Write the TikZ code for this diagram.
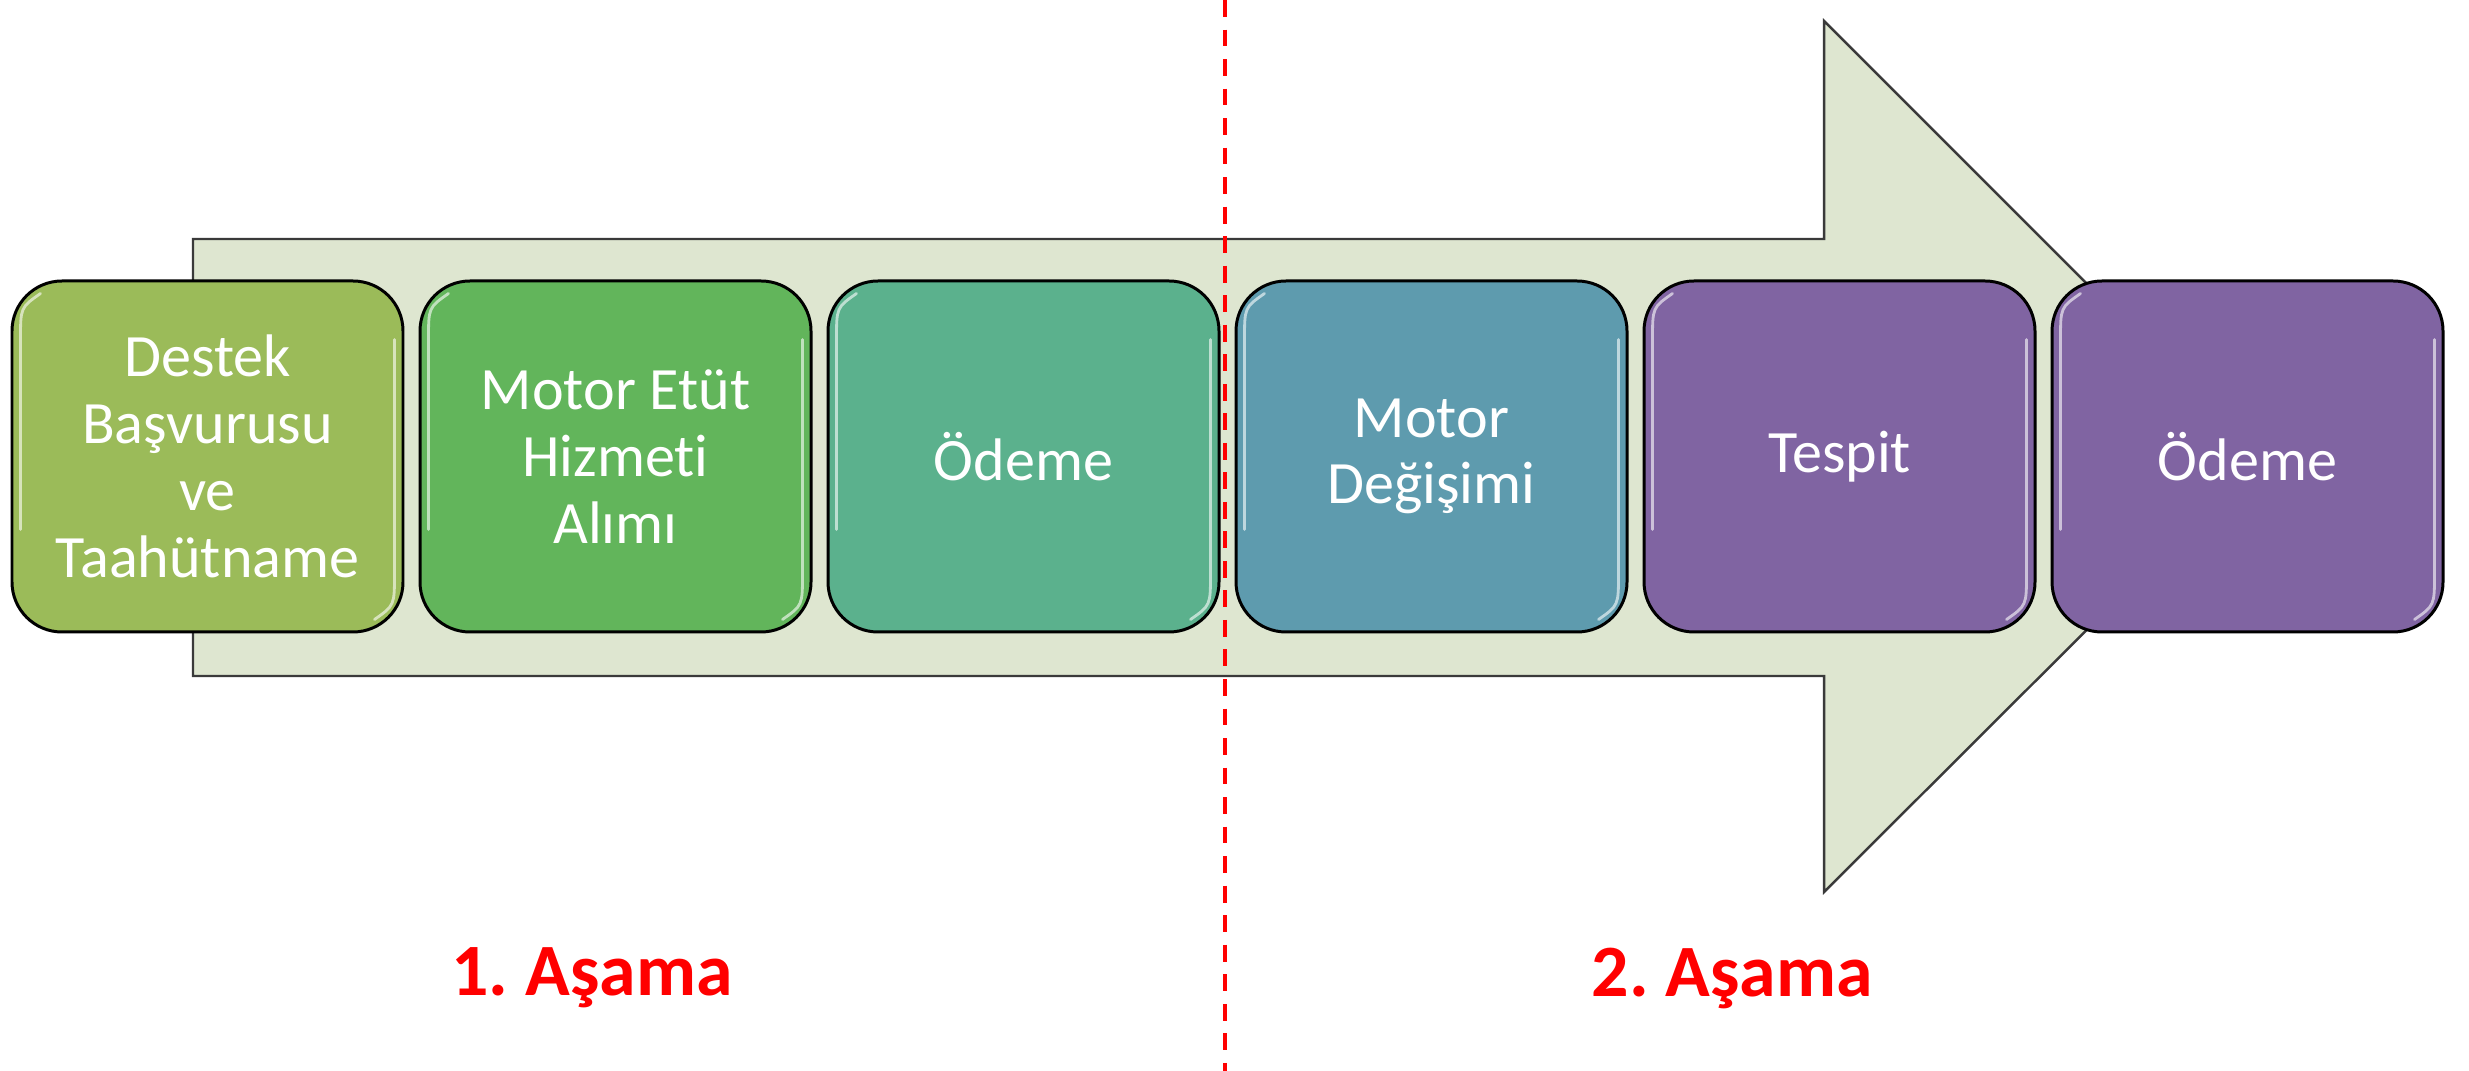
\documentclass[tikz,border=0pt]{standalone}
\usepackage{fontspec}
\setmainfont{Carlito}[Ligatures=NoCommon]
\frenchspacing
\definecolor{arrowfill}{HTML}{DEE6D0}
\definecolor{arrowline}{HTML}{3A3A3A}
\definecolor{ca}{HTML}{9BBB59}
\definecolor{cb}{HTML}{62B55B}
\definecolor{cc}{HTML}{5BB18D}
\definecolor{cd}{HTML}{5E9BAE}
\definecolor{ce}{HTML}{8064A2}
\definecolor{cf}{HTML}{8064A2}
\begin{document}
\begin{tikzpicture}[x=0.1mm,y=-0.1mm,
  stepbox/.style={draw=black, line width=0.85pt, rounded corners=5mm,
    minimum width=39.1mm, minimum height=35.1mm, inner sep=0pt,
    align=center, text=white, font=\fontsize{17.1}{19}\selectfont},
  hl/.style={draw=white, line width=0.8pt, opacity=0.6, line cap=round},
  phase/.style={text=red, font=\fontsize{21}{25}\selectfont\bfseries},
  divider/.style={draw=red, line width=1.15pt, dash pattern=on 4.8pt off 3.6pt}]
\useasboundingbox (0,0) rectangle (2469,1071);
% big arrow
\coordinate (a1) at (193,239);
\coordinate (a2) at (1824,239);
\coordinate (a3) at (1824,21);
\coordinate (a4) at (2260,457);
\coordinate (a5) at (1824,892);
\coordinate (a6) at (1824,676);
\coordinate (a7) at (193,676);
\draw[fill=arrowfill, draw=arrowline, line width=0.7pt, line join=miter]
  (a1) -- (a2) -- (a3) -- (a4) -- (a5) -- (a6) -- (a7) -- cycle;
% boxes
\node[stepbox, fill=ca] (b1) at (207.5,456.5) {Destek\\Başvurusu\\ve\\Taahütname};
\node[stepbox, fill=cb] (b2) at (615.5,456.5) {Motor Etüt\\Hizmeti\\Alımı};
\node[stepbox, fill=cc] (b3) at (1023.5,456.5) {Ödeme};
\node[stepbox, fill=cd] (b4) at (1431.5,456.5) {Motor\\Değişimi};
\node[stepbox, fill=ce] (b5) at (1839.5,456.5) {Tespit};
\node[stepbox, fill=cf] (b6) at (2247.5,456.5) {Ödeme};
% glossy highlights
\foreach \b in {b1,b2,b3,b4,b5,b6}{
  \draw[hl] ([shift={(10,250)}]\b.north west) -- ([shift={(10,60)}]\b.north west)
    .. controls ([shift={(10,28)}]\b.north west) .. ([shift={(30,14)}]\b.north west);
  \draw[hl] ([shift={(-10,60)}]\b.north east) -- ([shift={(-10,-60)}]\b.south east)
    .. controls ([shift={(-10,-28)}]\b.south east) .. ([shift={(-30,-14)}]\b.south east);
}
% divider
\coordinate (d1) at (1225,0);
\coordinate (d2) at (1225,1071);
\draw[divider] (d1) -- (d2);
% phase labels
\node[phase] (p1) at (592,978) {1. Aşama};
\node[phase] (p2) at (1732,978) {2. Aşama};
\end{tikzpicture}
\end{document}
